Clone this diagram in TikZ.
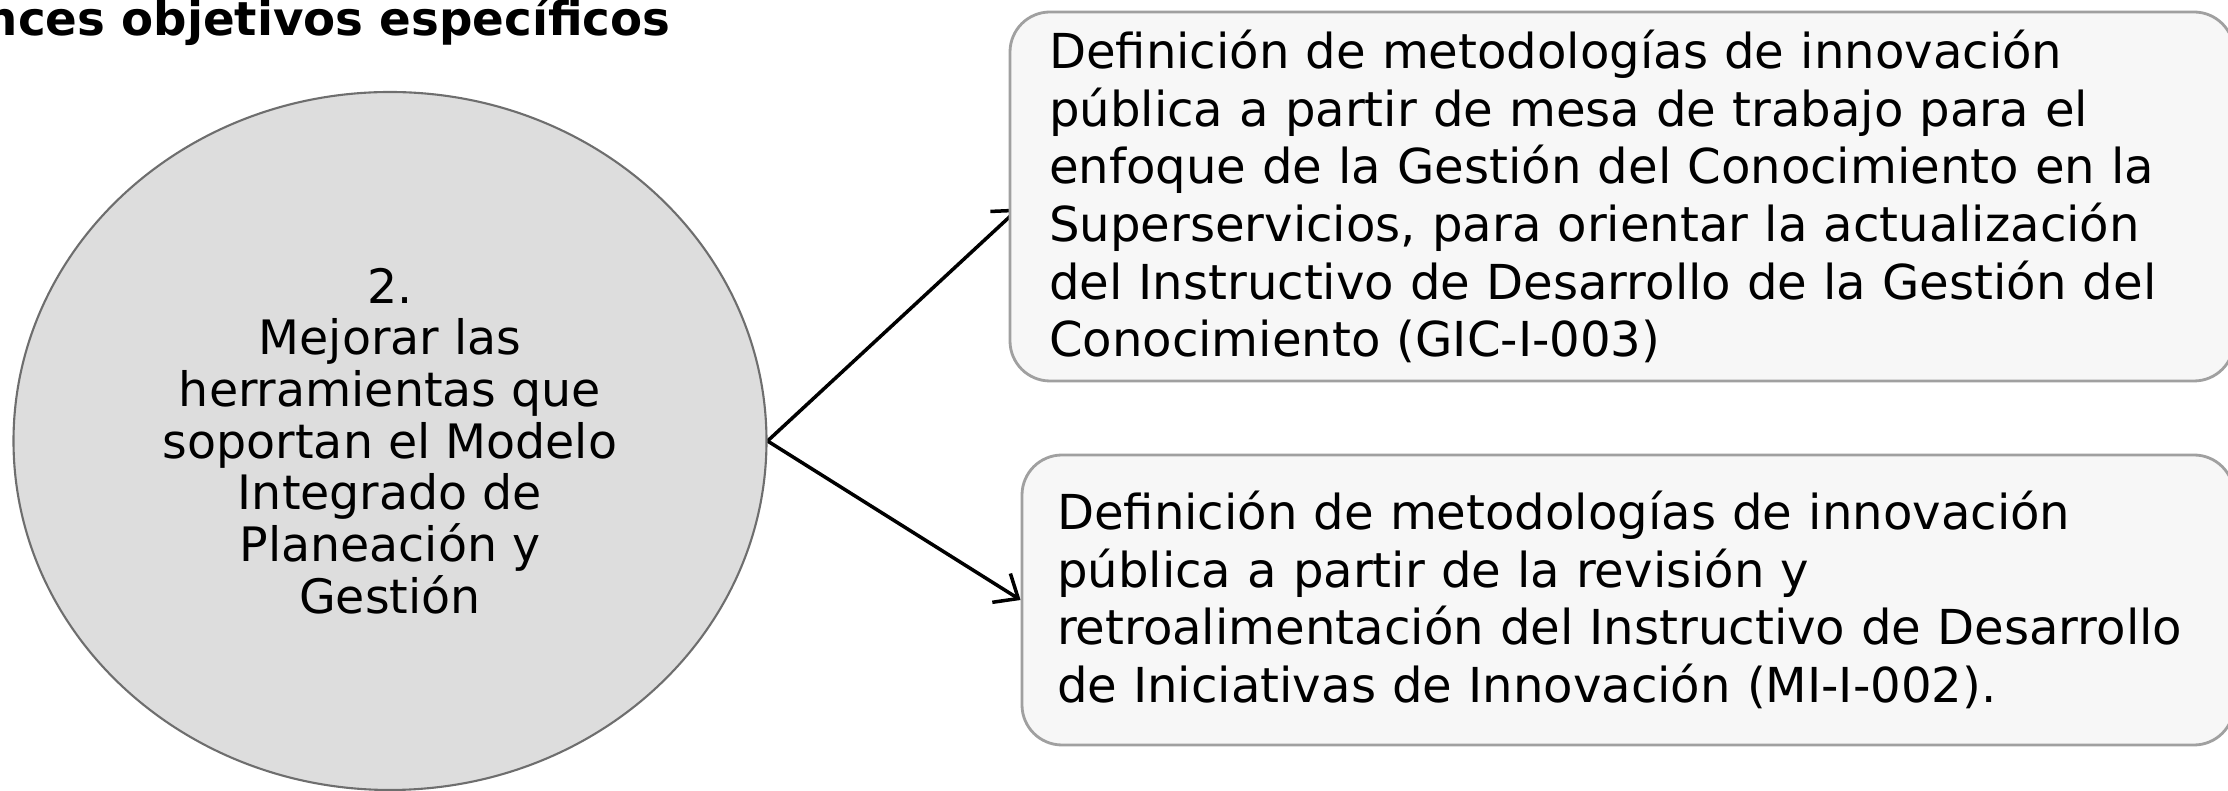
\documentclass[tikz,border=0pt]{standalone}
\usepackage{fontspec}
\setmainfont{DejaVu Sans}
\usetikzlibrary{shapes.geometric,arrows.meta,backgrounds}
\definecolor{circfill}{HTML}{DDDDDD}
\definecolor{circline}{HTML}{6E6E6E}
\definecolor{boxfill}{HTML}{F7F7F7}
\definecolor{boxline}{HTML}{A0A0A0}

\begin{document}
\begin{tikzpicture}[thick,
        goal/.style = {ellipse, draw = circline, semithick, fill = circfill, minimum width = 7.53cm, minimum height = 6.98cm, align = center, font = \fontsize{13.5}{14.7}\selectfont},
        task/.style = {rectangle, rounded corners = 0.4cm, draw = boxline, thick, fill = boxfill, align = left, font = \fontsize{13.7}{16.4}\selectfont},
        link/.style = {-{Straight Barb[length=2mm,width=3.4mm]}, black, line width = 1pt}]
            \useasboundingbox (0,0) rectangle (22.28,7.91);
            \node[anchor = base east, inner sep = 0pt, font = \fontsize{13.3}{16}\selectfont\bfseries] (title) at (6.72,7.55) {nces objetivos específicos};
            \node[goal] (goal) at (3.90,3.50) {2.\\Mejorar las\\herramientas que\\soportan el Modelo\\Integrado de\\Planeación y\\Gestión};
            \node[task, text width = 11.46cm, inner xsep = 0.39cm, minimum height = 3.69cm] (task1) at (16.22,5.945) {Definición de metodologías de innovación\\pública a partir de mesa de trabajo para el\\enfoque de la Gestión del Conocimiento en la\\Superservicios, para orientar la actualización\\del Instructivo de Desarrollo de la Gestión del\\Conocimiento (GIC-I-003)};
            \node[task, text width = 11.42cm, inner xsep = 0.35cm, minimum height = 2.90cm] (task2) at (16.28,1.91) {Definición de metodologías de innovación\\pública a partir de la revisión y\\retroalimentación del Instructivo de Desarrollo\\de Iniciativas de Innovación (MI-I-002).};
            \coordinate (tip1) at ([xshift = 0.1cm, yshift = -0.12cm]task1.west);
            \begin{scope}[on background layer]
                \draw[link] (goal.east) -- (tip1);
                \draw[link] (goal.east) -- (task2.west);
            \end{scope}
        \end{tikzpicture}
\end{document}
